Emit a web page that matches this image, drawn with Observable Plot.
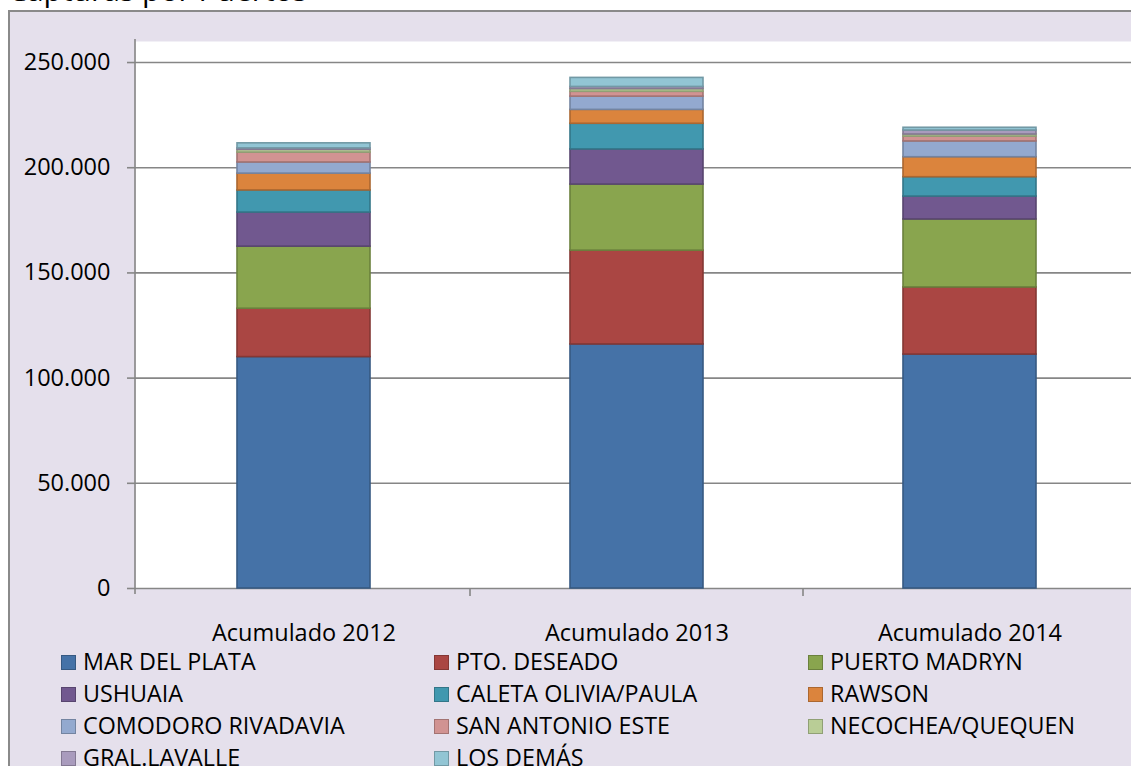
<!DOCTYPE html>
<html>
<head>
<meta charset="utf-8">
<script src="https://cdn.jsdelivr.net/npm/d3@7"></script>
<script src="https://cdn.jsdelivr.net/npm/@observablehq/plot@0.6"></script>
<style>
  html, body { margin: 0; padding: 0; width: 1131px; height: 766px; overflow: hidden; background: #fff; }
  body { position: relative; font-family: "Open Sans", "Noto Sans", sans-serif; color: #000; }
  #bg { position: absolute; left: 8px; top: 10px; width: 1200px; height: 800px; background: #E5E0EC;
        border-left: 2px solid #8a8a8a; border-top: 2px solid #8a8a8a; }
  #title { position: absolute; left: 8px; top: -25px; font-size: 30px; line-height: 30px; white-space: nowrap; }
  #plotwrap { position: absolute; left: 0; top: 0; width: 1140px; }
  #legend { position: absolute; left: 0; top: 645px; width: 1131px; height: 130px; }
  .item { position: absolute; font-size: 23.3px; line-height: 22px; white-space: nowrap; }
  .sw { position: absolute; width: 13px; height: 13px; left: 0; top: 5px; border: 1px solid; }
  .lab { position: absolute; left: 22px; top: 0; }
</style>
</head>
<body>
<div id="bg"></div>
<div id="title">Capturas por Puertos</div>
<div id="plotwrap"></div>
<div id="legend"></div>
<script>
const categories = ["Acumulado 2012", "Acumulado 2013", "Acumulado 2014"];
const ports = ["MAR DEL PLATA", "PTO. DESEADO", "PUERTO MADRYN", "USHUAIA", "CALETA OLIVIA/PAULA",
  "RAWSON", "COMODORO RIVADAVIA", "SAN ANTONIO ESTE", "NECOCHEA/QUEQUEN", "GRAL.LAVALLE", "LOS DEMÁS"];
const portColors = ["#4572A7", "#AA4643", "#89A54E", "#71588F", "#4198AF", "#DB843D",
  "#93A9CF", "#D19392", "#B9CD96", "#A99BBD", "#92C5D4"];
const values2012 = [110000, 23000, 29500, 16200, 10500, 8000, 5300, 4700, 1300, 700, 2400];
const values2013 = [116000, 44600, 31400, 16700, 12200, 6600, 6300, 2300, 1300, 1000, 4300];
const values2014 = [111200, 31900, 32300, 10900, 9200, 9500, 7500, 2300, 1000, 1900, 1300];
const yTicks = [0, 50000, 100000, 150000, 200000, 250000];

const seriesByYear = [values2012, values2013, values2014];
const rows = [];
categories.forEach((c, ci) => {
  ports.forEach((p, pi) => rows.push({cat: c, port: p, value: seriesByYear[ci][pi], pi}));
});
const darker = portColors.map(c => d3.color(c).darker(0.7).formatHex());
const fmt = d => d3.format(",")(d).replace(/,/g, ".");

const W = 1140, H = 645, ML = 135;
const plot = Plot.plot({
  width: W, height: H,
  marginLeft: ML, marginRight: 1, marginTop: 41, marginBottom: 57,
  style: {background: "transparent", fontFamily: "'Open Sans', 'Noto Sans', sans-serif", fontSize: "23.5px", color: "#000", overflow: "visible", maxWidth: "none"},
  x: {domain: categories, range: [ML + 2, ML + 1002], paddingInner: 0.6, paddingOuter: 0.3, label: null},
  y: {domain: [0, 260000], label: null},
  color: {type: "identity"},
  marks: [
    Plot.frame({fill: "white", stroke: null}),
    Plot.gridY(yTicks.filter(d => d > 0), {stroke: "#868686", strokeOpacity: 1, strokeWidth: 1.6}),
    Plot.ruleY([0], {stroke: "#868686", strokeWidth: 1.6}),
    Plot.barY(rows, {x: "cat", y: "value", fill: d => portColors[d.pi], stroke: d => darker[d.pi], strokeWidth: 1.6, order: null}),
    Plot.axisY({ticks: yTicks, tickFormat: fmt, tickSize: 8, tickPadding: 17, stroke: "#868686", strokeWidth: 1.6, fill: "#000", fontSize: "23.5px"}),
    Plot.axisX({tickSize: 0, tickPadding: 36, fill: "#000", fontSize: "23.5px"})
  ]
});
document.getElementById("plotwrap").appendChild(plot);

// axis lines built from the scales
const xs = plot.scale("x"), ysc = plot.scale("y");
const svg = d3.select(plot);
const y0 = ysc.apply(0);
const gap = (xs.step - xs.bandwidth) / 2;
svg.append("line").attr("x1", ML).attr("x2", ML).attr("y1", ysc.apply(260000) - 2).attr("y2", y0 + 6)
  .attr("stroke", "#868686").attr("stroke-width", 1.6);
categories.slice(1).forEach(c => {
  const bx = xs.apply(c) - gap;
  svg.append("line").attr("x1", bx).attr("x2", bx).attr("y1", y0).attr("y2", y0 + 8)
    .attr("stroke", "#868686").attr("stroke-width", 1.6);
});

// legend
const colX = [61, 434, 808];
const leg = document.getElementById("legend");
ports.forEach((p, i) => {
  const it = document.createElement("div");
  it.className = "item";
  it.style.left = colX[i % 3] + "px";
  it.style.top = (5 + Math.floor(i / 3) * 32) + "px";
  it.innerHTML = `<div class="sw" style="background:${portColors[i]};border-color:${darker[i]}"></div><div class="lab">${p}</div>`;
  leg.appendChild(it);
});
</script>
</body>
</html>
